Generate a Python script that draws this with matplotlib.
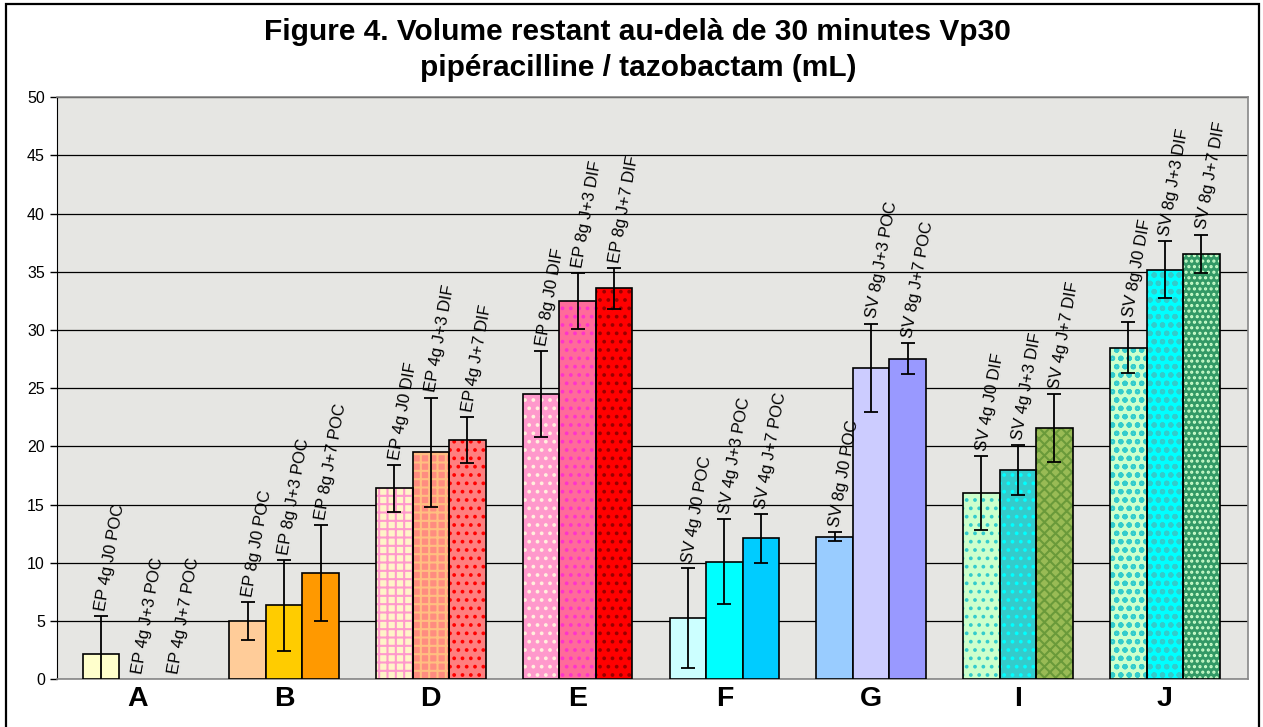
import numpy as np
from matplotlib import pyplot as plt
from matplotlib.patches import Rectangle

plt.rcParams['font.family'] = ['Liberation Sans', 'DejaVu Sans']
plt.rcParams['hatch.linewidth'] = 1.5

groups = ['A', 'B', 'D', 'E', 'F', 'G', 'I', 'J']

bar_labels = [
    'EP 4g J0 POC', 'EP 4g J+3 POC', 'EP 4g J+7 POC',
    'EP 8g J0 POC', 'EP 8g J+3 POC', 'EP 8g J+7 POC',
    'EP 4g J0 DIF', 'EP 4g J+3 DIF', 'EP 4g J+7 DIF',
    'EP 8g J0 DIF', 'EP 8g J+3 DIF', 'EP 8g J+7 DIF',
    'SV 4g J0 POC', 'SV 4g J+3 POC', 'SV 4g J+7 POC',
    'SV 8g J0 POC', 'SV 8g J+3 POC', 'SV 8g J+7 POC',
    'SV 4g J0 DIF', 'SV 4g J+3 DIF', 'SV 4g J+7 DIF',
    'SV 8g J0 DIF', 'SV 8g J+3 DIF', 'SV 8g J+7 DIF',
]

# mean volume (mL), 3 bars per group
values = [
    2.2, 0, 0,
    5.0, 6.35, 9.15,
    16.4, 19.5, 20.55,
    24.5, 32.5, 33.6,
    5.25, 10.1, 12.1,
    12.25, 26.75, 27.55,
    16.0, 18.0, 21.6,
    28.5, 35.2, 36.55,
]

errors = [
    3.2, 0, 0,
    1.65, 3.9, 4.1,
    2.0, 4.7, 2.0,
    3.7, 2.4, 1.75,
    4.3, 3.65, 2.1,
    0.4, 3.8, 1.3,
    3.2, 2.15, 2.9,
    2.2, 2.45, 1.65,
]

yticks = [0, 5, 10, 15, 20, 25, 30, 35, 40, 45, 50]

# (face colour, hatch, hatch colour) for each bar
styles = [
    ('#FFFFCC', None, None), ('#FFFFCC', None, None), ('#FFFFCC', None, None),
    ('#FFCC99', None, None), ('#FFCC00', None, None), ('#FF9900', None, None),
    ('#FFF4C8', '++', '#FF99CC'), ('#FF8C80', '++', '#FFBF80'), ('#FF7F7F', '..', '#FF0000'),
    ('#FF99CC', '..', '#FFF0DD'), ('#FF6B9A', '..', '#FF33CC'), ('#FF0000', '..', '#990000'),
    ('#CCFFFF', None, None), ('#00FFFF', None, None), ('#00CCFF', None, None),
    ('#99CCFF', None, None), ('#CCCCFF', None, None), ('#9999FF', None, None),
    ('#CCFFCC', '..', '#33CCCC'), ('#33CCCC', '..', '#00FFFF'), ('#99BB55', 'xxx', '#6A9A3A'),
    ('#CCFFCC', 'oo', '#33CCCC'), ('#00FFFF', 'oo', '#33CCCC'), ('#339966', '...', '#CCFFCC'),
]

fig = plt.figure(figsize=(12.63, 7.27), dpi=100)
ax = fig.add_axes([56.7 / 1263, (727 - 679.3) / 727, 1191 / 1263, 582 / 727])
ax.set_facecolor('#e6e6e3')

width = 0.2486
xs = []
for g in range(len(groups)):
    for k in range(3):
        xs.append(g + (k - 1) * width)
xs = np.array(xs)
values = np.array(values)
errors = np.array(errors)

for i in range(len(values)):
    if values[i] <= 0:
        continue
    face, hatch, hcol = styles[i]
    if hatch:
        ax.bar(xs[i], values[i], width, color=face, hatch=hatch,
               edgecolor=hcol, linewidth=0, zorder=3)
        ax.bar(xs[i], values[i], width, fill=False, edgecolor='black',
               linewidth=1.2, zorder=4)
    else:
        ax.bar(xs[i], values[i], width, color=face, edgecolor='black',
               linewidth=1.2, zorder=3)

mask = errors > 0
ax.errorbar(xs[mask], values[mask], yerr=errors[mask], fmt='none',
            ecolor='black', elinewidth=1.3, capsize=4.7, capthick=1.3, zorder=5)

for i in range(len(values)):
    top = values[i] + errors[i]
    ax.annotate(bar_labels[i], (xs[i], top), xytext=(0, 4), textcoords='offset points',
                rotation=80, rotation_mode='anchor', ha='left', va='center',
                fontsize=12, zorder=6)

ax.set_ylim(0, 50)
ax.set_xlim(-0.549, 7.565)
ax.set_yticks(yticks)
ax.tick_params(axis='y', labelsize=11.5, length=5, direction='out', width=1)
ax.set_xticks(range(len(groups)))
ax.set_xticklabels(groups, fontsize=20.5, fontweight='bold')
ax.tick_params(axis='x', length=0, pad=5)
ax.yaxis.grid(True, color='black', linewidth=0.9)
ax.set_axisbelow(True)
for s in ['top', 'right', 'bottom']:
    ax.spines[s].set_color('#888888')
    ax.spines[s].set_linewidth(1.2)
ax.spines['left'].set_color('black')

fig.text(0.505, 0.956, 'Figure 4. Volume restant au-delà de 30 minutes Vp30',
         ha='center', va='center', fontsize=21.5, fontweight='bold')
fig.text(0.505, 0.907, 'pipéracilline / tazobactam (mL)',
         ha='center', va='center', fontsize=21.5, fontweight='bold')

# outer chart frame
fig.patches.append(Rectangle((6 / 1263, -0.05), 1253 / 1263, 0.05 + 723 / 727,
                             transform=fig.transFigure, fill=False,
                             edgecolor='black', linewidth=1.6))

plt.savefig('out.png', dpi=100)
